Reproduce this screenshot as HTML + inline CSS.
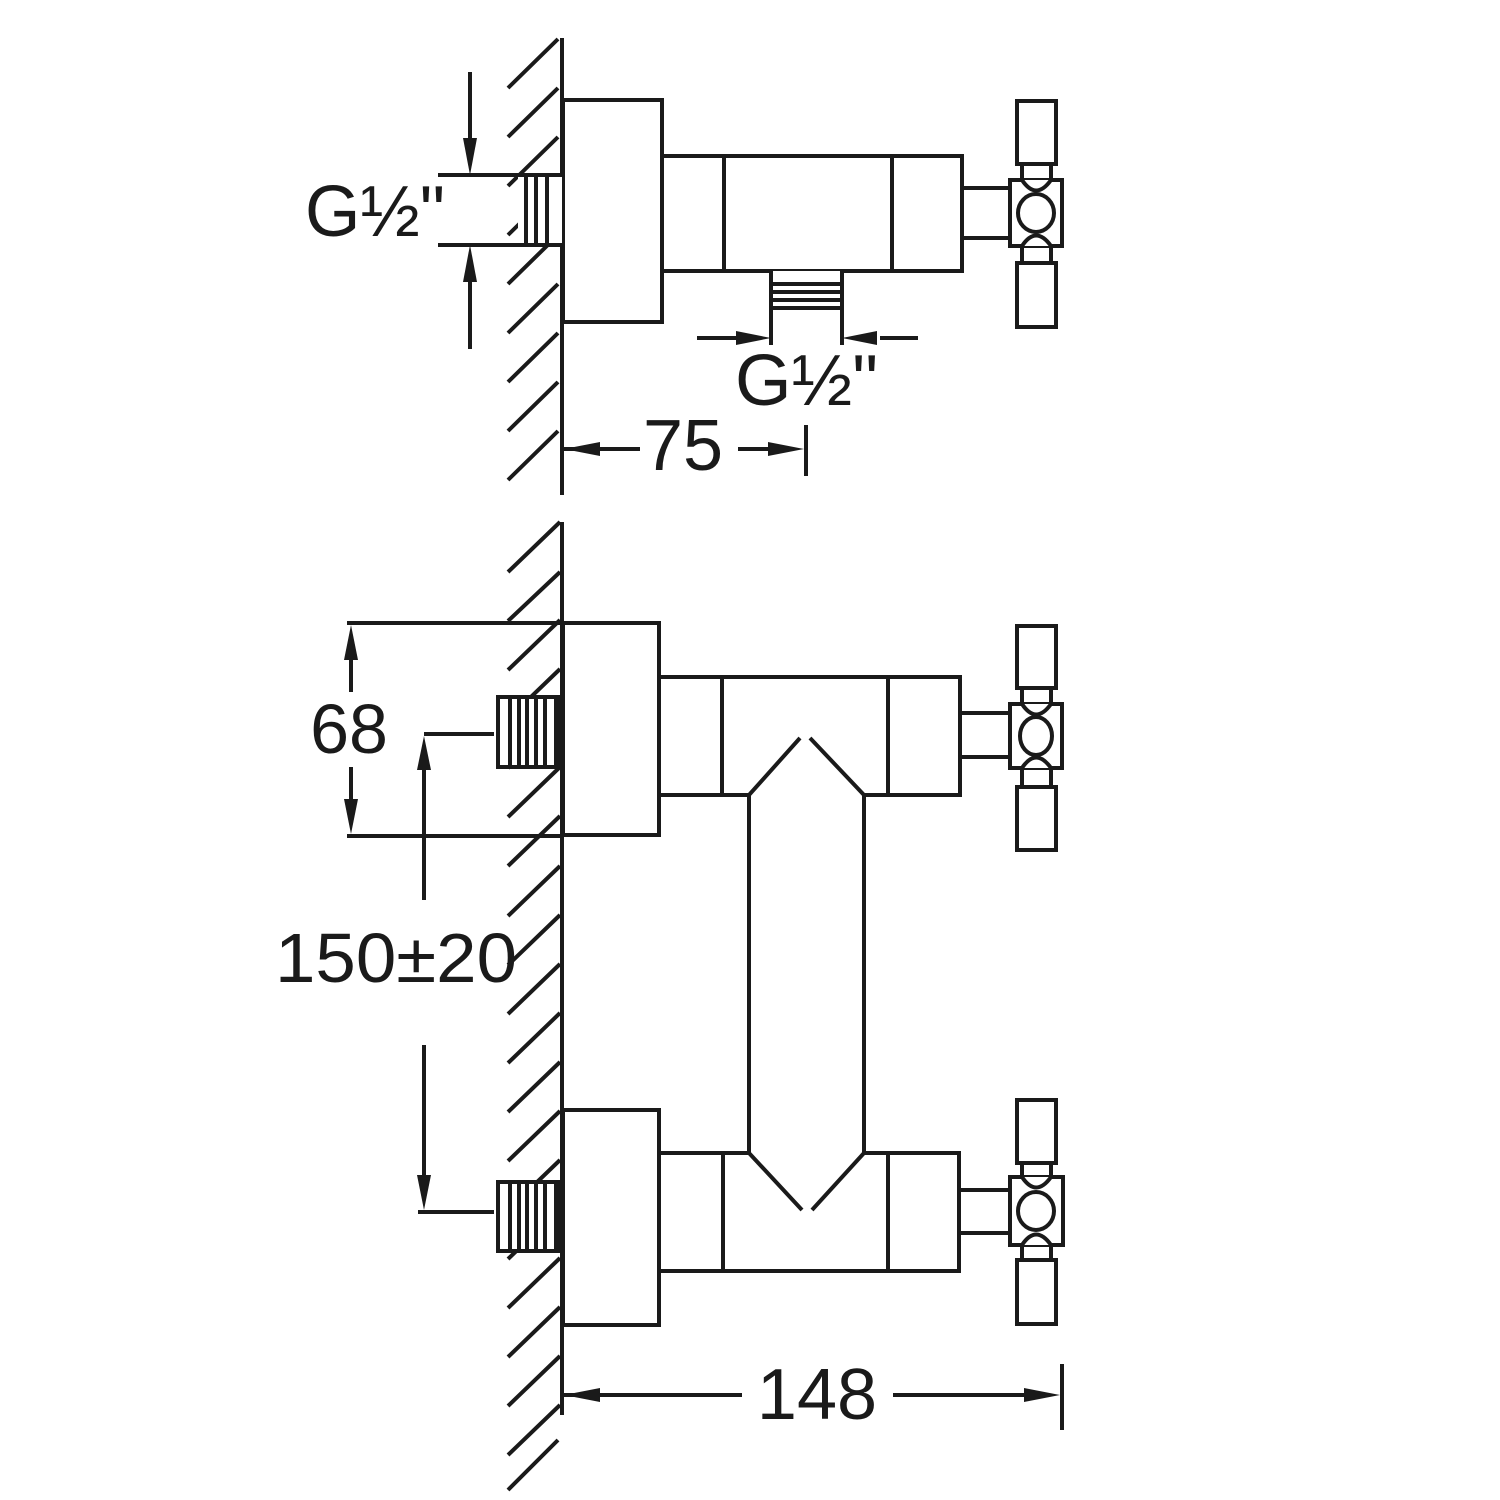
<!DOCTYPE html>
<html><head><meta charset="utf-8"><style>html,body{margin:0;padding:0;background:#fff}svg{display:block}</style></head>
<body>
<svg width="1500" height="1500" viewBox="0 0 1500 1500" xmlns="http://www.w3.org/2000/svg">
<g stroke="#1a1a1a" stroke-width="4" fill="none" stroke-linecap="butt">
<path d="M508 88L558 39M508 137L558 88M508 186L558 137M508 235L558 186M508 284L558 235M508 333L558 284M508 382L558 333M508 431L558 382M508 480L558 431"/>
<path d="M508 572L560 522M508 621L560 572M508 670L560 620M508 719L560 669M508 768L560 718M508 817L560 767M508 866L560 816M508 916L560 866M508 965L560 915M508 1014L560 964M508 1063L560 1013M508 1112L560 1062M508 1161L560 1111M508 1210L560 1160M508 1259L560 1209M508 1308L560 1258M508 1357L560 1307M508 1406L560 1356M508 1455L560 1405M508 1490L558 1440"/>
<path d="M562 38V495M562 522V1415"/>

<rect x="563" y="100" width="99" height="222" fill="#fff"/>
<rect x="662" y="156" width="300" height="115" fill="#fff"/>
<path d="M724 156V271M892 156V271"/>
<rect x="962" y="188" width="48" height="50" fill="#fff"/>
<rect x="771" y="271" width="71" height="69" fill="#fff" stroke="none"/>
<path d="M771 271V345M842 271V345M771 284H842M771 292H842M771 300H842M771 308H842"/>
<rect x="518" y="175" width="44" height="70" fill="#fff" stroke="none"/>
<path d="M526 175V245M536 175V245M547 175V245"/>
<path d="M438 175H562M438 245H562"/>
<path d="M470 72V140M470 280V349"/>
<path d="M697 338H740M880 338H918"/>
<path d="M562 449H640M738 449H790M806 425V476"/>

<rect x="563" y="623" width="96" height="212" fill="#fff"/>
<rect x="563" y="1110" width="96" height="215" fill="#fff"/>
<path d="M347 623H562M347 836H562"/>
<path d="M351 660V692M351 767V800"/>
<rect x="498" y="697" width="62" height="70" fill="#fff"/>
<path d="M510 697V767M519 697V767M527 697V767M536 697V767M545 697V767M556 697V767"/>
<path d="M424 734H494M424 770V900M424 1045V1175M418 1212H494"/>
<rect x="498" y="1182" width="62" height="69" fill="#fff"/>
<path d="M510 1182V1251M519 1182V1251M527 1182V1251M536 1182V1251M545 1182V1251M556 1182V1251"/>

<path d="M659 677H960V795H864L810 738M800 738L749 795H659M722 677V795M888 677V795"/>
<path d="M749 795V1153M864 795V1153"/>
<path d="M659 1153H749L802 1210M812 1210L864 1153H959V1271H659M723 1153V1271M888 1153V1271"/>
<rect x="960" y="713" width="50" height="44" fill="#fff"/>
<rect x="959" y="1190" width="51" height="43" fill="#fff"/>
<path d="M562 1395H742M893 1395H1030M1062 1364V1430"/>
</g>

<g fill="#1a1a1a">
<polygon points="470,175 463,138 477,138"/>
<polygon points="470,245 463,282 477,282"/>
<polygon points="771,338 736,331 736,345"/>
<polygon points="842,338 877,331 877,345"/>
<polygon points="564,449 600,442 600,456"/>
<polygon points="804,449 768,442 768,456"/>
<polygon points="351,625 344,660 358,660"/>
<polygon points="351,834 344,799 358,799"/>
<polygon points="424,736 417,770 431,770"/>
<polygon points="424,1210 417,1175 431,1175"/>
<polygon points="564,1395 600,1388 600,1402"/>
<polygon points="1060,1395 1024,1388 1024,1402"/>
</g>

<g stroke="#1a1a1a" stroke-width="4" fill="#fff">
<g transform="translate(0,213)">
<rect x="1017" y="-112" width="39" height="63"/>
<rect x="1022" y="-49" width="29" height="17"/>
<rect x="1022" y="32" width="29" height="18"/>
<rect x="1017" y="50" width="39" height="64"/>
<path d="M1010 -33H1062V33H1010Z"/>
<path d="M1022 -33Q1036 -12 1051 -33"/>
<path d="M1022 33Q1036 12 1051 33"/>
<ellipse cx="1036" cy="0" rx="18" ry="19"/>
</g>
<g transform="translate(0,736)">
<rect x="1017" y="-110" width="39" height="62"/>
<rect x="1022" y="-48" width="29" height="16"/>
<rect x="1022" y="32" width="29" height="19"/>
<rect x="1017" y="51" width="39" height="63"/>
<path d="M1010 -32H1062V32H1010Z"/>
<path d="M1022 -32Q1036 -11 1051 -32"/>
<path d="M1022 32Q1036 11 1051 32"/>
<ellipse cx="1036" cy="0" rx="16" ry="19"/>
</g>
<g transform="translate(0,1211)">
<rect x="1017" y="-111" width="39" height="63"/>
<rect x="1022" y="-48" width="29" height="14"/>
<rect x="1022" y="34" width="29" height="15"/>
<rect x="1017" y="49" width="39" height="64"/>
<path d="M1010 -34H1063V34H1010Z"/>
<path d="M1022 -34Q1036 -13 1051 -34"/>
<path d="M1022 34Q1036 13 1051 34"/>
<ellipse cx="1036" cy="0" rx="18" ry="19"/>
</g>
</g>

<g fill="#1a1a1a" font-family="Liberation Sans, sans-serif">
<text x="305" y="236" font-size="72" textLength="140" lengthAdjust="spacingAndGlyphs">G½"</text>
<text x="735" y="405" font-size="72" textLength="143" lengthAdjust="spacingAndGlyphs">G½"</text>
<text x="683" y="470" font-size="72" text-anchor="middle">75</text>
<text x="349" y="753" font-size="70" text-anchor="middle">68</text>
<text x="396" y="982" font-size="70" text-anchor="middle" textLength="242" lengthAdjust="spacingAndGlyphs">150±20</text>
<text x="817" y="1419" font-size="72" text-anchor="middle">148</text>
</g>
</svg>
</body></html>
